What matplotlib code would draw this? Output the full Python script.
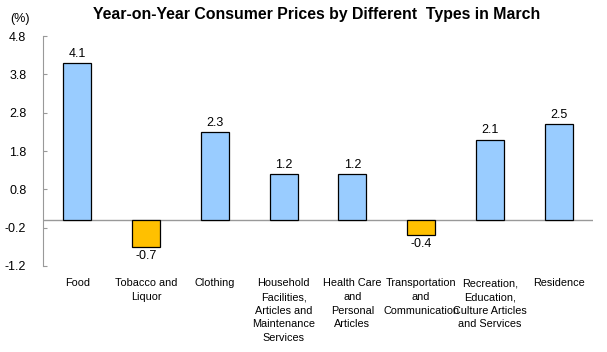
import matplotlib
matplotlib.use("Agg")
import matplotlib.pyplot as plt

categories = ["Food", "Tobacco and\nLiquor", "Clothing",
              "Household\nFacilities,\nArticles and\nMaintenance\nServices",
              "Health Care\nand\nPersonal\nArticles",
              "Transportation\nand\nCommunication",
              "Recreation,\nEducation,\nCulture Articles\nand Services",
              "Residence"]
values = [4.1, -0.7, 2.3, 1.2, 1.2, -0.4, 2.1, 2.5]
yticks = [-1.2, -0.2, 0.8, 1.8, 2.8, 3.8, 4.8]

plt.rcParams['font.family'] = ['Liberation Sans', 'DejaVu Sans']

fig = plt.figure(figsize=(6.07, 3.52), dpi=100)
ax = fig.add_axes([43/607, 1-266/352, 550/607, 230/352])

x = list(range(len(categories)))
colors = ['#99CCFF' if v >= 0 else '#FFC000' for v in values]
ax.bar(x, values, width=0.41, color=colors, edgecolor='black', linewidth=0.9, zorder=2)

for xi, v in zip(x, values):
    if v >= 0:
        ax.text(xi, v + 0.08, f"{v:.1f}", ha='center', va='bottom', fontsize=9)
    else:
        ax.text(xi, v - 0.08, f"{v:.1f}", ha='center', va='top', fontsize=9)

ax.axhline(0, color='#999999', linewidth=1, zorder=1)
ax.set_xlim(-0.5, len(categories) - 0.5)
ax.set_ylim(-1.2, 4.8)
ax.set_yticks(yticks)
ax.set_yticklabels([f"{t:.1f}" for t in yticks], fontsize=9)
ax.set_xticks(x)
ax.set_xticklabels(categories, fontsize=7.8, linespacing=1.45)
ax.tick_params(axis='x', length=0, pad=9)
ax.tick_params(axis='y', length=3, direction='in', color='#999999', pad=12)
for s in ['top', 'right', 'bottom']:
    ax.spines[s].set_visible(False)
ax.spines['left'].set_color('#999999')

fig.text(317/607, 1-14/352, "Year-on-Year Consumer Prices by Different  Types in March",
         ha='center', va='center', fontsize=11.4, fontweight='bold')
fig.text(20/607, 1-19/352, "(%)", ha='center', va='center', fontsize=9)

fig.savefig("out.png", dpi=100)
